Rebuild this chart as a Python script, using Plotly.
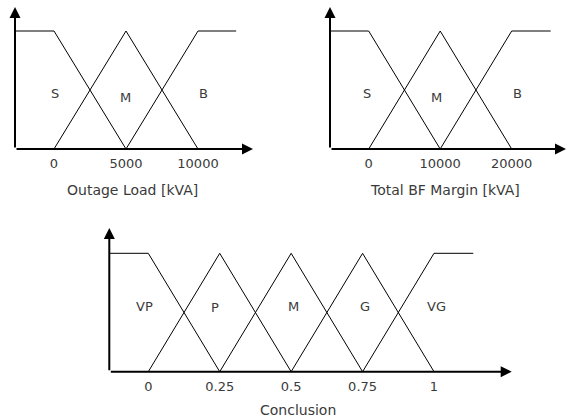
import plotly.graph_objects as go

W, H = 569, 420

# ---------------- data ----------------
# Panel 1: Outage Load [kVA]
load_ticks = [0, 5000, 10000]
load_ticktext = ["0", "5000", "10000"]
load_sets = ["S", "M", "B"]
load_x = [[-2700, 0, 5000], [0, 5000, 10000], [5000, 10000, 12650]]
load_y = [[1, 1, 0], [0, 1, 0], [0, 1, 1]]
load_lab_x = [50, 4950, 10350]
load_lab_y = [0.47, 0.44, 0.47]

# Panel 2: Total BF Margin [kVA]
margin_ticks = [0, 10000, 20000]
margin_ticktext = ["0", "10000", "20000"]
margin_sets = ["S", "M", "B"]
margin_x = [[-5400, 0, 10000], [0, 10000, 20000], [10000, 20000, 25450]]
margin_y = [[1, 1, 0], [0, 1, 0], [0, 1, 1]]
margin_lab_x = [-250, 9550, 20750]
margin_lab_y = [0.47, 0.44, 0.47]

# Panel 3: Conclusion
concl_ticks = [0, 0.25, 0.5, 0.75, 1]
concl_ticktext = ["0", "0.25", "0.5", "0.75", "1"]
concl_sets = ["VP", "P", "M", "G", "VG"]
concl_x = [[-0.1366, 0, 0.25], [0, 0.25, 0.5], [0.25, 0.5, 0.75],
           [0.5, 0.75, 1], [0.75, 1, 1.1375]]
concl_y = [[1, 1, 0], [0, 1, 0], [0, 1, 0], [0, 1, 0], [0, 1, 1]]
concl_lab_x = [-0.012, 0.234, 0.507, 0.759, 1.01]
concl_lab_y = [0.55, 0.54, 0.55, 0.55, 0.55]

titles = ["Outage Load [kVA]", "Total BF Margin [kVA]", "Conclusion"]

# ---------------- layout geometry (pixels) ----------------
panels = [
    dict(xa=(0, 54), xb=(5000, 126), xext=(15, 253),
         ya=(0, 149), yb=(1, 31), ytop=7, title_pos=(132, 190)),
    dict(xa=(0, 368.7), xb=(20000, 511.7), xext=(330, 566),
         ya=(0, 149), yb=(1, 31), ytop=7, title_pos=(445, 190)),
    dict(xa=(0, 148.3), xb=(1, 434), xext=(109.3, 511.7),
         ya=(0, 371.7), yb=(1, 253.3), ytop=228, title_pos=(298, 410)),
]

data = [
    (load_x, load_y, load_sets, load_lab_x, load_lab_y, load_ticks, load_ticktext),
    (margin_x, margin_y, margin_sets, margin_lab_x, margin_lab_y, margin_ticks, margin_ticktext),
    (concl_x, concl_y, concl_sets, concl_lab_x, concl_lab_y, concl_ticks, concl_ticktext),
]

FONT = "DejaVu Sans"
TXT = "#3a3a3a"
PAD = 3  # pixels of padding around arrows

fig = go.Figure()
annotations = []
layout_axes = {}

for i, (p, d) in enumerate(zip(panels, data)):
    n = "" if i == 0 else str(i + 1)
    xr, yr = "x" + n, "y" + n
    (va, pa), (vb, pb) = p["xa"], p["xb"]
    sx = (vb - va) / (pb - pa)
    px2v = lambda px, va=va, pa=pa, sx=sx: va + (px - pa) * sx
    (wa, qa), (wb, qb) = p["ya"], p["yb"]
    sy = (wb - wa) / (qb - qa)
    py2v = lambda py, wa=wa, qa=qa, sy=sy: wa + (py - qa) * sy

    x0px, x1px = p["xext"]
    dx0 = max(0.0, x0px - PAD)
    dx1 = min(float(W), x1px + PAD)
    dom_x = [dx0 / W, dx1 / W]
    yb_px = qa + PAD
    yt_px = max(0.0, p["ytop"] - PAD)
    dom_y = [1 - yb_px / H, 1 - yt_px / H]

    xs, ys, sets, lx, ly, tv, tt = d
    for k in range(len(xs)):
        fig.add_trace(go.Scatter(x=xs[k], y=ys[k], mode="lines",
                                 line=dict(color="black", width=1),
                                 xaxis=xr, yaxis=yr, showlegend=False,
                                 hoverinfo="skip", name=sets[k]))
        annotations.append(dict(x=lx[k], y=ly[k], xref=xr, yref=yr,
                                text=sets[k], showarrow=False,
                                xanchor="center", yanchor="middle",
                                font=dict(family=FONT, size=13, color=TXT)))

    # axis arrows
    xleft, xright = px2v(x0px), px2v(x1px)
    ytop = py2v(p["ytop"])
    annotations.append(dict(x=xright, y=0, ax=xleft, ay=0, xref=xr, yref=yr,
                            axref=xr, ayref=yr, text="", showarrow=True,
                            arrowhead=2, arrowsize=1.1, arrowwidth=2,
                            arrowcolor="black"))
    annotations.append(dict(x=xleft, y=ytop, ax=xleft, ay=0, xref=xr, yref=yr,
                            axref=xr, ayref=yr, text="", showarrow=True,
                            arrowhead=2, arrowsize=1.1, arrowwidth=2,
                            arrowcolor="black"))
    # axis title
    tx, ty = p["title_pos"]
    annotations.append(dict(x=tx / W, y=1 - ty / H, xref="paper", yref="paper",
                            text=titles[i], showarrow=False,
                            xanchor="center", yanchor="middle",
                            font=dict(family=FONT, size=14, color=TXT)))

    layout_axes["xaxis" + n] = dict(domain=dom_x,
                                    range=[px2v(dx0), px2v(dx1)],
                                    anchor=yr, showgrid=False, zeroline=False,
                                    showline=False, ticks="", tickvals=tv,
                                    ticktext=tt, ticklabelstandoff=2,
                                    tickfont=dict(family=FONT, size=13, color=TXT),
                                    fixedrange=True)
    layout_axes["yaxis" + n] = dict(domain=dom_y,
                                    range=[py2v(yb_px), py2v(yt_px)],
                                    anchor=xr, visible=False, fixedrange=True)

fig.update_layout(width=W, height=H, margin=dict(l=0, r=0, t=0, b=0),
                  paper_bgcolor="white", plot_bgcolor="white",
                  annotations=annotations, **layout_axes)

fig.write_html("out.html", config={"displayModeBar": False},
               post_script="document.body.style.margin='0';"
                           "document.body.style.overflow='hidden';")
